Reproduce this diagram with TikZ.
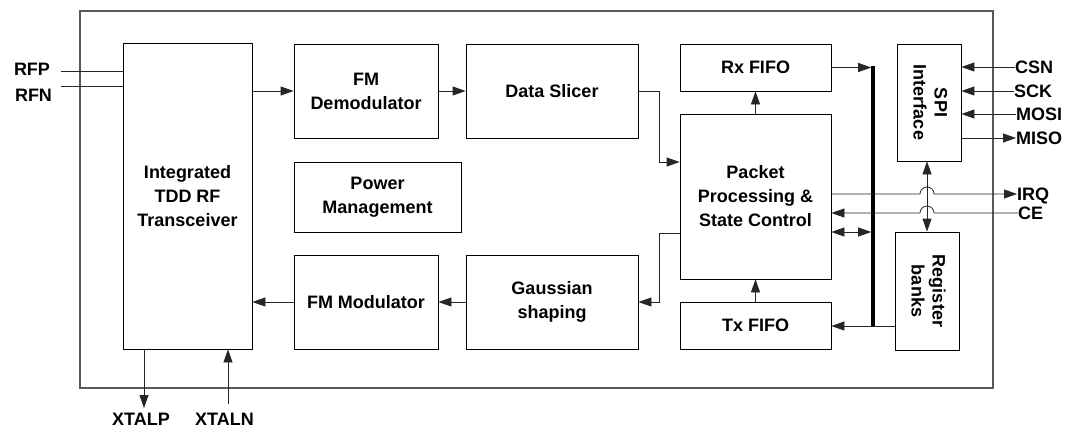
\documentclass[tikz,border=0pt]{standalone}
\usepackage{fontspec}
\setmainfont{Liberation Sans}
\usetikzlibrary{arrows.meta}
\begin{document}
\begin{tikzpicture}[x=1pt,y=-1pt,
  box/.style={draw=black, line width=0.8pt, fill=white, align=center, inner sep=0pt,
    font=\fontsize{18}{24}\selectfont\bfseries},
  pin/.style={inner sep=0pt, text height=12.9pt, text depth=0pt,
    font=\fontsize{18}{24}\selectfont\bfseries},
  wire/.style={line width=0.8pt, draw=black!85},
  arr/.style={wire, -{Triangle[length=13pt,width=9pt]}},
  darr/.style={wire, {Triangle[length=13pt,width=9pt]}-{Triangle[length=13pt,width=9pt]}}
]
\useasboundingbox (0,0) rectangle (1067,429);
% chip outline
\node[draw=black!65, line width=1.5pt, minimum width=913, minimum height=377, inner sep=0pt] (chip) at (536.5,199.5) {};
% blocks
\node[box, minimum width=129, minimum height=306] (trx) at (187.5,196) {Integrated\\TDD RF\\Transceiver};
\node[box, minimum width=144, minimum height=94] (fmd) at (366,91) {FM\\Demodulator};
\node[box, minimum width=172, minimum height=94] (ds) at (552,91) {Data Slicer};
\node[box, minimum width=167, minimum height=70] (pm) at (377.5,197) {Power\\Management};
\node[box, minimum width=144, minimum height=94] (fmm) at (366,302) {FM Modulator};
\node[box, minimum width=172, minimum height=94] (gs) at (552,302) {Gaussian\\shaping};
\node[box, minimum width=151, minimum height=47] (rxf) at (755.5,67.5) {Rx FIFO};
\node[box, minimum width=151, minimum height=165] (pp) at (755.5,196.5) {Packet\\Processing \&\\State Control};
\node[box, minimum width=151, minimum height=47] (txf) at (755.5,325.5) {Tx FIFO};
\node[box, minimum width=64, minimum height=117] (spi) at (929,102.5)
  {\rotatebox{-90}{\begin{tabular}{@{}c@{}}SPI\\[-3pt]Interface\end{tabular}}};
\node[box, minimum width=64, minimum height=118] (reg) at (927,291)
  {\rotatebox{-90}{\begin{tabular}{@{}c@{}}Register\\[-3pt]banks\end{tabular}}};
% bus
\node[fill=black, inner sep=0pt, minimum width=3.2, minimum height=261] (bus) at (873,196.5) {};
% pin labels
\coordinate (rfpP) at (61,71);
\coordinate (rfnP) at (61,86);
\node[pin] (rfp) at (32,69) {RFP};
\node[pin] (rfn) at (33.5,95) {RFN};
\coordinate (csnP) at (1015,67);
\coordinate (sckP) at (1014,91);
\coordinate (mosiP) at (1016,114);
\coordinate (misoP) at (1016,138);
\coordinate (irqP) at (1017,194);
\coordinate (ceP) at (1018,213);
\node[pin, anchor=west] (csn) at (csnP) {CSN};
\node[pin, anchor=west] (sck) at (sckP) {SCK};
\node[pin, anchor=west] (mosi) at (mosiP) {MOSI};
\node[pin, anchor=west] (miso) at (misoP) {MISO};
\node[pin, anchor=west] (irq) at (irqP) {IRQ};
\node[pin, anchor=west] (ce) at (ceP) {CE};
\coordinate (xpP) at (144,408);
\coordinate (xnP) at (228,404);
\node[pin] (xtalp) at (141,419) {XTALP};
\node[pin] (xtaln) at (224.5,419) {XTALN};
% connectors
\draw[wire] (rfpP) -- (trx.west |- rfpP);
\draw[wire] (rfnP) -- (trx.west |- rfnP);
\draw[arr] (trx.east |- fmd.west) -- (fmd.west);
\draw[arr] (fmd.east) -- (ds.west);
\draw[arr] (ds.east) -- (659,91) |- (pp.west |- 0,162);
\draw[arr] (pp.west |- 0,233) -- (659,233) |- (gs.east);
\draw[arr] (gs.west) -- (fmm.east);
\draw[arr] (fmm.west) -- (trx.east |- fmm.west);
\draw[arr] (pp.north) -- (rxf.south);
\draw[arr] (txf.north) -- (pp.south);
\draw[arr] (rxf.east) -- (bus.west |- rxf.east);
\draw[darr] (pp.east |- 0,232) -- (bus.west |- 0,232);
\draw[arr] (reg.west |- 0,326) -- (txf.east |- 0,326);
\draw[darr] (spi.south -| reg.north) -- (reg.north);
\draw[arr] (pp.east |- irqP) -- (920,194) arc[start angle=180,end angle=0,radius=7pt] -- (irqP);
\draw[arr] (ceP) -- (934,213) arc[start angle=0,end angle=180,radius=7pt] -- (pp.east |- ceP);
\draw[arr] (csnP) -- (spi.east |- csnP);
\draw[arr] (sckP) -- (spi.east |- sckP);
\draw[arr] (mosiP) -- (spi.east |- mosiP);
\draw[arr] (spi.east |- misoP) -- (misoP);
\draw[arr] (trx.south -| xpP) -- (xpP);
\draw[arr] (xnP) -- (trx.south -| xnP);
\end{tikzpicture}
\end{document}
